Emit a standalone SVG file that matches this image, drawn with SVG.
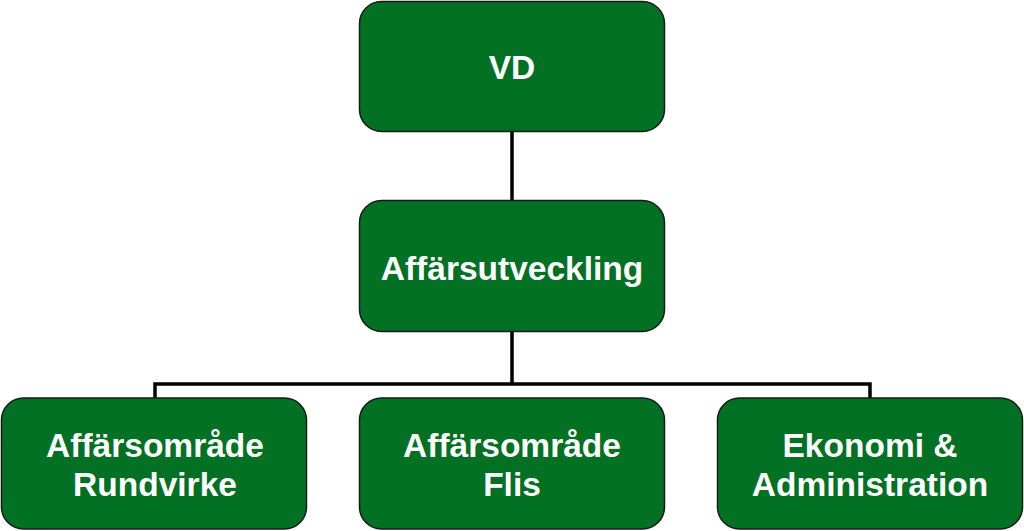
<svg xmlns="http://www.w3.org/2000/svg" width="1024" height="531" viewBox="0 0 1024 531">
<style>
.box{fill:#037123;stroke:#1a1a1a;stroke-width:1.5}
.t{font-family:"Liberation Sans",Arial,sans-serif;font-weight:bold;font-size:33.5px;fill:#ffffff;text-anchor:middle}
.c{stroke:#000;stroke-width:3.5;fill:none}
</style>
<rect width="1024" height="531" fill="#fff"/>
<g id="connectors">
<path class="c" d="M512,132 V200"/>
<path class="c" d="M512,332 V384 M155,398 V384 H870 V398"/>
</g>
<g id="vd"><rect class="box" x="359.5" y="1.5" width="305" height="130" rx="22"/><text class="t" x="512" y="79">VD</text></g>
<g id="affarsutveckling"><rect class="box" x="359.5" y="200.5" width="305" height="131" rx="22"/><text class="t" x="512" y="280">Affärsutveckling</text></g>
<g id="rundvirke"><rect class="box" x="1.5" y="398" width="305" height="131" rx="22"/><text class="t" x="155" y="457">Affärsområde</text><text class="t" x="155" y="496">Rundvirke</text></g>
<g id="flis"><rect class="box" x="359.5" y="398" width="305" height="131" rx="22"/><text class="t" x="512" y="457">Affärsområde</text><text class="t" x="512" y="496">Flis</text></g>
<g id="ekonomi"><rect class="box" x="717.5" y="398" width="305" height="131" rx="22"/><text class="t" x="870" y="457">Ekonomi &amp;</text><text class="t" x="870" y="496">Administration</text></g>
</svg>
